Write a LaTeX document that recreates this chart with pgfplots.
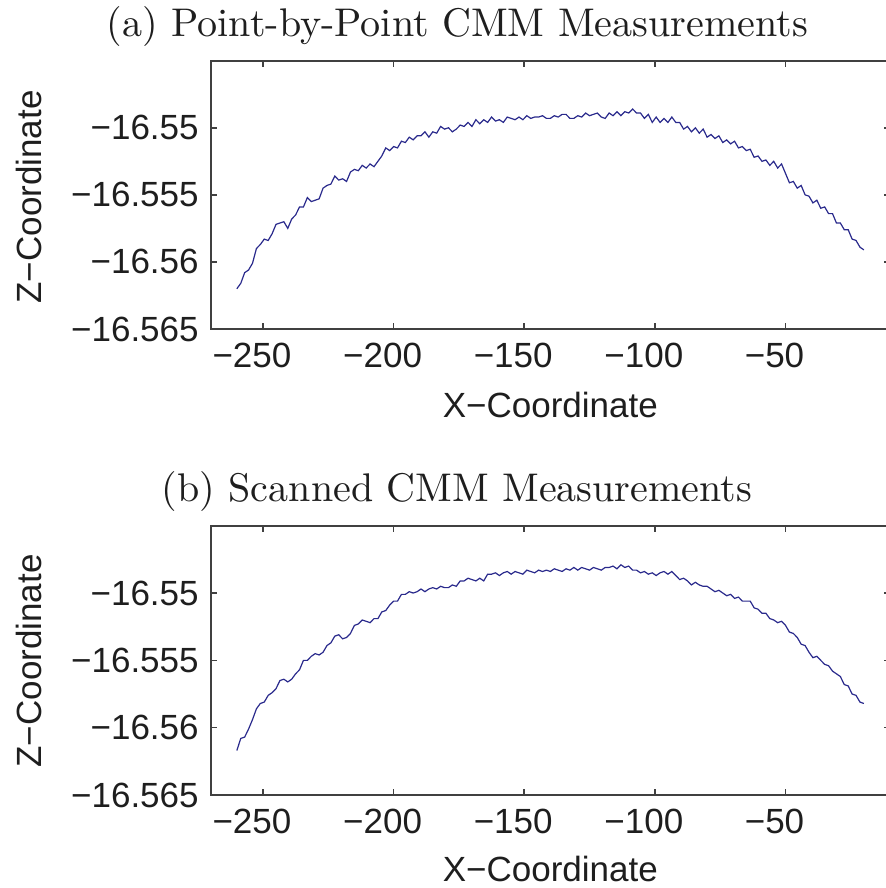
\documentclass[border=0pt]{standalone}
\usepackage{fontspec}
\usepackage{pgfplots}
\usepackage{pgfplotstable}
\pgfplotsset{compat=1.18}
\usepackage{graphicx}
\newfontfamily\arial{Liberation Sans}
\newcommand\af{\arial\fontsize{17.5}{21}\selectfont}
\definecolor{curve}{RGB}{42,42,140}
\definecolor{txt}{RGB}{30,30,30}
% y values are Z-coordinate + 16.55 (mm); tick labels give the absolute Z
\pgfplotstableread{
x dz
-260 -0.0120
-258.5 -0.0116
-257 -0.0108
-255.5 -0.0106
-254 -0.0101
-252.5 -0.0090
-251 -0.0087
-249.5 -0.0083
-248 -0.0084
-246.5 -0.0079
-245 -0.0072
-243.5 -0.0071
-242 -0.0070
-240.5 -0.0075
-239 -0.0068
-237.5 -0.0065
-236 -0.0059
-234.5 -0.0059
-233 -0.0052
-231.5 -0.0055
-230 -0.0054
-228.5 -0.0053
-227 -0.0045
-225.5 -0.0043
-224 -0.0042
-222.5 -0.0036
-221 -0.0039
-219.5 -0.0038
-218 -0.0040
-216.5 -0.0033
-215 -0.0031
-213.5 -0.0032
-212 -0.0028
-210.5 -0.0030
-209 -0.0027
-207.5 -0.0029
-206 -0.0025
-204.5 -0.0021
-203 -0.0015
-201.5 -0.0017
-200 -0.0014
-198.5 -0.0015
-197 -0.0010
-195.5 -0.0011
-194 -0.0007
-192.5 -0.0009
-191 -0.0006
-189.5 -0.0006
-188 -0.0003
-186.5 -0.0007
-185 -0.0003
-183.5 -0.0004
-182 0.0001
-180.5 -0.0001
-179 0.0000
-177.5 -0.0003
-176 -0.0001
-174.5 0.0002
-173 0.0001
-171.5 0.0004
-170 0.0001
-168.5 0.0006
-167 0.0003
-165.5 0.0006
-164 0.0004
-162.5 0.0008
-161 0.0005
-159.5 0.0006
-158 0.0004
-156.5 0.0008
-155 0.0007
-153.5 0.0006
-152 0.0008
-150.5 0.0006
-149 0.0009
-147.5 0.0007
-146 0.0008
-144.5 0.0008
-143 0.0009
-141.5 0.0007
-140 0.0007
-138.5 0.0009
-137 0.0008
-135.5 0.0010
-134 0.0010
-132.5 0.0007
-131 0.0007
-129.5 0.0009
-128 0.0008
-126.5 0.0011
-125 0.0009
-123.5 0.0010
-122 0.0011
-120.5 0.0008
-119 0.0007
-117.5 0.0011
-116 0.0009
-114.5 0.0012
-113 0.0009
-111.5 0.0012
-110 0.0011
-108.5 0.0014
-107 0.0011
-105.5 0.0011
-104 0.0007
-102.5 0.0010
-101 0.0004
-99.5 0.0008
-98 0.0004
-96.5 0.0007
-95 0.0004
-93.5 0.0008
-92 0.0004
-90.5 0.0004
-89 -0.0001
-87.5 0.0001
-86 -0.0003
-84.5 0.0000
-83 -0.0004
-81.5 -0.0001
-80 -0.0007
-78.5 -0.0005
-77 -0.0008
-75.5 -0.0006
-74 -0.0011
-72.5 -0.0009
-71 -0.0012
-69.5 -0.0010
-68 -0.0015
-66.5 -0.0014
-65 -0.0017
-63.5 -0.0016
-62 -0.0022
-60.5 -0.0021
-59 -0.0025
-57.5 -0.0024
-56 -0.0028
-54.5 -0.0025
-53 -0.0030
-51.5 -0.0027
-50 -0.0034
-48.5 -0.0041
-47 -0.0040
-45.5 -0.0045
-44 -0.0043
-42.5 -0.0050
-41 -0.0051
-39.5 -0.0056
-38 -0.0054
-36.5 -0.0060
-35 -0.0059
-33.5 -0.0064
-32 -0.0064
-30.5 -0.0071
-29 -0.0071
-27.5 -0.0076
-26 -0.0076
-24.5 -0.0083
-23 -0.0084
-21.5 -0.0089
-20 -0.0091
}\pointdata
\pgfplotstableread{
x dz
-260 -0.0117
-258.5 -0.0108
-257 -0.0107
-255.5 -0.0101
-254 -0.0094
-252.5 -0.0086
-251 -0.0082
-249.5 -0.0081
-248 -0.0076
-246.5 -0.0074
-245 -0.0071
-243.5 -0.0065
-242 -0.0064
-240.5 -0.0066
-239 -0.0064
-237.5 -0.0060
-236 -0.0057
-234.5 -0.0050
-233 -0.0050
-231.5 -0.0047
-230 -0.0045
-228.5 -0.0046
-227 -0.0044
-225.5 -0.0039
-224 -0.0037
-222.5 -0.0032
-221 -0.0031
-219.5 -0.0034
-218 -0.0033
-216.5 -0.0030
-215 -0.0024
-213.5 -0.0023
-212 -0.0020
-210.5 -0.0021
-209 -0.0022
-207.5 -0.0019
-206 -0.0019
-204.5 -0.0014
-203 -0.0013
-201.5 -0.0009
-200 -0.0006
-198.5 -0.0006
-197 -0.0001
-195.5 -0.0001
-194 0.0001
-192.5 0.0000
-191 0.0001
-189.5 0.0003
-188 0.0001
-186.5 0.0003
-185 0.0004
-183.5 0.0003
-182 0.0005
-180.5 0.0004
-179 0.0004
-177.5 0.0006
-176 0.0005
-174.5 0.0009
-173 0.0009
-171.5 0.0011
-170 0.0010
-168.5 0.0009
-167 0.0011
-165.5 0.0009
-164 0.0014
-162.5 0.0014
-161 0.0015
-159.5 0.0013
-158 0.0015
-156.5 0.0016
-155 0.0014
-153.5 0.0016
-152 0.0015
-150.5 0.0014
-149 0.0017
-147.5 0.0016
-146 0.0015
-144.5 0.0017
-143 0.0016
-141.5 0.0017
-140 0.0016
-138.5 0.0018
-137 0.0017
-135.5 0.0016
-134 0.0018
-132.5 0.0017
-131 0.0019
-129.5 0.0017
-128 0.0019
-126.5 0.0018
-125 0.0017
-123.5 0.0019
-122 0.0018
-120.5 0.0017
-119 0.0019
-117.5 0.0019
-116 0.0020
-114.5 0.0018
-113 0.0021
-111.5 0.0019
-110 0.0020
-108.5 0.0017
-107 0.0017
-105.5 0.0015
-104 0.0016
-102.5 0.0014
-101 0.0015
-99.5 0.0013
-98 0.0015
-96.5 0.0016
-95 0.0014
-93.5 0.0016
-92 0.0013
-90.5 0.0010
-89 0.0011
-87.5 0.0009
-86 0.0006
-84.5 0.0008
-83 0.0006
-81.5 0.0005
-80 0.0005
-78.5 0.0003
-77 0.0001
-75.5 0.0002
-74 0.0000
-72.5 -0.0002
-71 -0.0001
-69.5 -0.0004
-68 -0.0003
-66.5 -0.0006
-65 -0.0006
-63.5 -0.0006
-62 -0.0011
-60.5 -0.0012
-59 -0.0015
-57.5 -0.0015
-56 -0.0019
-54.5 -0.0020
-53 -0.0022
-51.5 -0.0021
-50 -0.0024
-48.5 -0.0029
-47 -0.0030
-45.5 -0.0033
-44 -0.0038
-42.5 -0.0039
-41 -0.0044
-39.5 -0.0048
-38 -0.0047
-36.5 -0.0050
-35 -0.0053
-33.5 -0.0054
-32 -0.0058
-30.5 -0.0060
-29 -0.0062
-27.5 -0.0068
-26 -0.0069
-24.5 -0.0075
-23 -0.0076
-21.5 -0.0081
-20 -0.0082
}\scandata
\pgfplotsset{mystyle/.style={scale only axis, width=339.65pt,
  xmin=-270, xmax=-10, ymin=-0.015, ymax=0.005,
  scaled ticks=false,
  xtick={-250,-200,-150,-100,-50}, xticklabels={−250,−200,−150,−100,−50},
  ytick={-0.015,-0.01,-0.005,0}, yticklabels={−16.565,−16.56,−16.555,−16.55},
  tick label style={font=\af, text=txt},
  xticklabel style={xshift=-5.5pt, yshift=-3.7pt},
  yticklabel style={xshift=-2.5pt},
  major tick length=3pt, tick style={black!75, line width=0.8pt},
  axis line style={black!75, line width=0.9pt},
  label style={font=\af, text=txt}}}
\begin{document}
\begin{tikzpicture}
\path (0pt,0pt) rectangle (443pt,-444pt);
\begin{scope}[overlay]
\begin{axis}[mystyle, height=134.15pt, at={(105.35pt,-164.5pt)}, anchor=south west,
  title={\resizebox{350.5pt}{15pt}{(a) Point-by-Point CMM Measurements}},
  title style={at={(axis description cs:0.3633,1.092)}, anchor=base, yshift=-6pt, text=txt, inner sep=0pt},
  xlabel={X−Coordinate}, xlabel style={at={(axis description cs:0.5,-0.3306)}, anchor=base},
  ylabel={Z−Coordinate}, ylabel style={at={(axis description cs:-0.2488,0.492)}, anchor=base}]
\addplot[curve, line width=0.6pt, no marks] table[x=x, y=dz] {\pointdata};
\end{axis}
\begin{axis}[mystyle, height=134.65pt, at={(105.35pt,-397.5pt)}, anchor=south west,
  title={\resizebox{295pt}{15pt}{(b) Scanned CMM Measurements}},
  title style={at={(axis description cs:0.3626,1.0899)}, anchor=base, yshift=-6pt, text=txt, inner sep=0pt},
  xlabel={X−Coordinate}, xlabel style={at={(axis description cs:0.5,-0.322)}, anchor=base},
  ylabel={Z−Coordinate}, ylabel style={at={(axis description cs:-0.2488,0.4976)}, anchor=base}]
\addplot[curve, line width=0.6pt, no marks] table[x=x, y=dz] {\scandata};
\end{axis}
\end{scope}
\end{tikzpicture}
\end{document}
